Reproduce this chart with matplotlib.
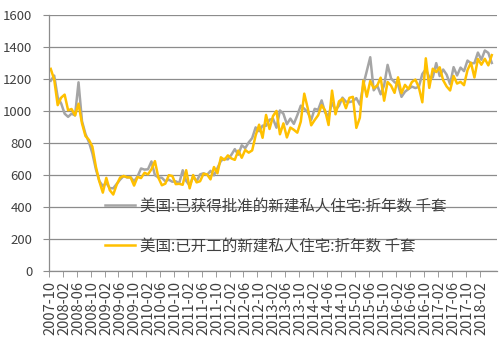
import numpy as np
import matplotlib
matplotlib.use('Agg')
import matplotlib.pyplot as plt

plt.rcParams['font.family'] = ['Noto Sans CJK SC', 'DejaVu Sans']

# monthly, 2007-10 .. 2018-05, thousand units SAAR
permits = [1190, 1222, 1087,
           1048, 984, 964, 984, 973, 1180, 937, 857, 806, 735, 636, 562,
           531, 551, 518, 517, 545, 572, 594, 585, 586, 561, 591, 641,
           634, 636, 685, 599, 585, 583, 561, 571, 558, 561, 549, 630,
           563, 534, 590, 561, 604, 611, 601, 626, 598, 643, 689, 701,
           698, 726, 762, 727, 786, 768, 804, 831, 898, 874, 909, 908,
           946, 952, 896, 1004, 983, 918, 953, 920, 974, 1034, 1015, 992,
           945, 1014, 1008, 1067, 991, 969, 1052, 1008, 1033, 1084, 1059, 1056,
           1062, 1081, 1040, 1163, 1250, 1337, 1130, 1161, 1105, 1161, 1289, 1204,
           1181, 1166, 1089, 1121, 1138, 1153, 1144, 1152, 1232, 1262, 1212, 1210,
           1300, 1219, 1260, 1228, 1168, 1275, 1223, 1272, 1250, 1316, 1299, 1300,
           1366, 1321, 1379, 1364, 1301]
starts = [1264, 1197, 1037,
          1084, 1103, 1005, 1013, 973, 1046, 923, 844, 820, 777, 652, 560,
          490, 582, 505, 478, 540, 585, 594, 586, 585, 534, 588, 581,
          614, 604, 636, 687, 583, 536, 546, 599, 594, 543, 545, 539,
          630, 517, 600, 554, 561, 608, 604, 573, 650, 611, 711, 694,
          723, 704, 695, 753, 708, 757, 740, 754, 847, 915, 833, 976,
          888, 969, 1001, 855, 923, 835, 897, 883, 865, 934, 1109, 1018,
          911, 944, 974, 1037, 1004, 913, 1128, 980, 1061, 1077, 1018, 1083,
          1089, 895, 958, 1190, 1090, 1188, 1143, 1159, 1209, 1065, 1182, 1159,
          1114, 1211, 1112, 1164, 1138, 1182, 1197, 1148, 1055, 1330, 1145, 1265,
          1244, 1274, 1193, 1154, 1129, 1220, 1172, 1183, 1162, 1256, 1303, 1210,
          1326, 1290, 1327, 1286, 1350]

months = []
y, m = 2007, 10
for i in range(len(starts)):
    months.append('%d-%02d' % (y, m))
    m += 1
    if m > 12:
        m = 1
        y += 1

label_permits = '美国:已获得批准的新建私人住宅:折年数 千套'
label_starts = '美国:已开工的新建私人住宅:折年数 千套'

x = np.arange(len(months))

fig = plt.figure(figsize=(5, 3.37), dpi=100)
ax = fig.add_axes([0.098, 0.196, 0.896, 0.759])

ax.plot(x, permits, color='#A5A5A5', lw=1.8, label=label_permits)
ax.plot(x, starts, color='#FFC000', lw=1.8, label=label_starts)

ax.set_ylim(0, 1600)
ax.set_yticks(range(0, 1601, 200))
ax.set_xlim(-0.5, len(months) + 0.5)
# labels on the month, tick marks on the boundary before it
ax.set_xticks(x[::4])
ax.set_xticklabels(months[::4], rotation=90, va='top')
ax.set_xticks(x[::4] - 0.5, minor=True)
ax.grid(axis='y', color='#8C8C8C', lw=0.9)
ax.set_axisbelow(True)

for s in ['top', 'right']:
    ax.spines[s].set_visible(False)
for s in ['left', 'bottom']:
    ax.spines[s].set_color('#8C8C8C')
    ax.spines[s].set_linewidth(0.9)
ax.tick_params(axis='y', length=4, color='#8C8C8C', labelsize=9.5,
               labelcolor='#404040', pad=8)
ax.tick_params(axis='x', which='major', length=0, labelsize=10.5,
               labelcolor='#404040', pad=7)
ax.tick_params(axis='x', which='minor', length=4, color='#8C8C8C')

ax.legend(loc='center left', bbox_to_anchor=(0.093, 0.176), frameon=False,
          fontsize=11.2, labelcolor='#404040', handlelength=1.95,
          handletextpad=0.3, labelspacing=1.5)

fig.savefig('out.png', dpi=100)
